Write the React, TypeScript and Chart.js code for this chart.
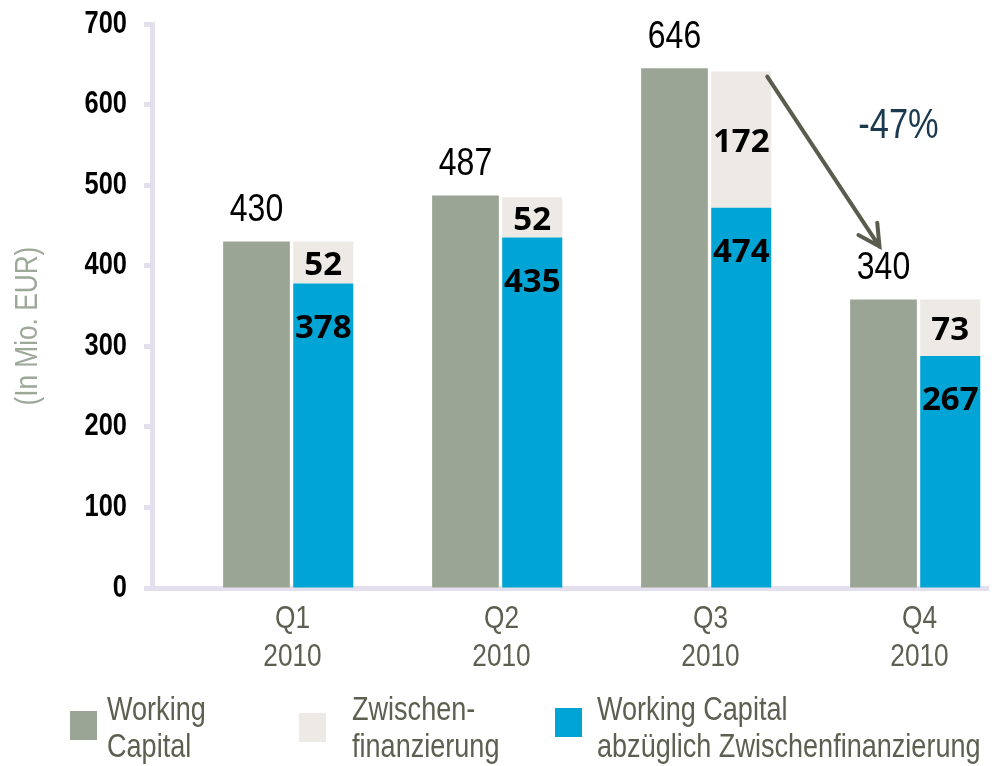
import React, { useEffect, useRef } from 'react';
import { Chart, registerables } from 'chart.js';

Chart.register(...registerables);

// ---- data ----
const categories = [
  ['Q1', '2010'],
  ['Q2', '2010'],
  ['Q3', '2010'],
  ['Q4', '2010'],
];
const spacer = [null, null, null, null];
const workingCapital = [430, 487, 645, 358];
const zwischenfinanzierung = [52, 50, 169, 70];
const wcNet = [378, 435, 472, 288];

const wcLabels = ['430', '487', '646', '340'];
const zwLabels = ['52', '52', '172', '73'];
const netLabels = ['378', '435', '474', '267'];

const yMin = 0;
const yMax = 700;
const yStep = 100;
const yTitle = '(In Mio. EUR)';
const changeLabel = '-47%';

const legendNames = [
  ['Working', 'Capital'],
  ['Zwischen-', 'finanzierung'],
  ['Working Capital', 'abzüglich Zwischenfinanzierung'],
];

// ---- styles ----
const GRAY = '#9ba596';
const BEIGE = '#edeae5';
const BLUE = '#00a5d6';
const AXIS = '#e3dfec';
const TEXT = '#5d5f50';
const TITLE = '#9ca898';
const ARROW = '#5a5c4e';
const CHANGE = '#1b3a50';
const SANS = '"Liberation Sans", Arial, sans-serif';
const WIDEBOLD = '"Open Sans", "Noto Sans", sans-serif';
const NARROW_SCALE = 0.82;

const legendLayout = [
  { color: GRAY, box: [70, 711, 27, 29], textX: 107 },
  { color: BEIGE, box: [299, 713, 27, 29], textX: 352 },
  { color: BLUE, box: [555, 708, 27, 29], textX: 597 },
];

function narrowText(
  ctx: CanvasRenderingContext2D,
  text: string,
  x: number,
  y: number,
  size: number,
  color: string,
  align: CanvasTextAlign = 'center',
  weight = 'normal'
) {
  ctx.save();
  ctx.translate(x, y);
  ctx.scale(NARROW_SCALE, 1);
  ctx.font = `${weight} ${size}px ${SANS}`;
  ctx.fillStyle = color;
  ctx.textAlign = align;
  ctx.textBaseline = 'middle';
  ctx.fillText(text, 0, 0);
  ctx.restore();
}

const overlayPlugin = {
  id: 'overlay',
  afterDraw(chart: any) {
    const ctx = chart.ctx as CanvasRenderingContext2D;
    const yScale = chart.scales.y;
    const xScale = chart.scales.x;
    const area = chart.chartArea;
    const wcMeta = chart.getDatasetMeta(1);
    const netMeta = chart.getDatasetMeta(2);
    const zwMeta = chart.getDatasetMeta(3);
    ctx.save();

    // y tick labels
    yScale.ticks.forEach((t: any, i: number) => {
      narrowText(ctx, String(t.label), area.left - 25, yScale.getPixelForTick(i), 31, '#000', 'right', 'bold');
    });

    // x tick labels
    xScale.ticks.forEach((t: any, i: number) => {
      const lines = categories[i];
      const px = xScale.getPixelForTick(i) + 36;
      lines.forEach((line, j) => {
        narrowText(ctx, line, px, area.bottom + 31 + j * 38, 32, TEXT, 'center');
      });
    });

    // value labels above working capital bars
    wcMeta.data.forEach((bar: any, i: number) => {
      narrowText(ctx, wcLabels[i], bar.x, bar.y - 31, 39, '#000');
    });

    // labels in stacked bars
    ctx.fillStyle = '#000';
    ctx.textAlign = 'center';
    ctx.textBaseline = 'middle';
    ctx.font = `bold 33px ${WIDEBOLD}`;
    zwMeta.data.forEach((bar: any, i: number) => {
      ctx.fillText(zwLabels[i], bar.x, (bar.y + bar.base) / 2 + 3);
    });
    netMeta.data.forEach((bar: any, i: number) => {
      ctx.fillText(netLabels[i], bar.x, bar.y + 45);
    });

    // arrow from Q3 to Q4
    const from = zwMeta.data[2] as any;
    const to = wcMeta.data[3] as any;
    const x1 = from.x + from.width / 2 - 4;
    const y1 = from.y + 5;
    const x2 = to.x - 4;
    const y2 = to.y - 53;
    ctx.strokeStyle = ARROW;
    ctx.lineWidth = 4;
    ctx.lineCap = 'round';
    ctx.beginPath();
    ctx.moveTo(x1, y1);
    ctx.lineTo(x2, y2);
    const ang = Math.atan2(y1 - y2, x1 - x2);
    const hl = 24;
    const spread = (28 * Math.PI) / 180;
    ctx.moveTo(x2 + hl * Math.cos(ang - spread), y2 + hl * Math.sin(ang - spread));
    ctx.lineTo(x2, y2);
    ctx.lineTo(x2 + hl * Math.cos(ang + spread), y2 + hl * Math.sin(ang + spread));
    ctx.stroke();

    // change label
    narrowText(ctx, changeLabel, xScale.getPixelForValue(3) + 15, yScale.getPixelForValue(573), 42, CHANGE);

    // y axis title
    ctx.save();
    ctx.translate(28, yScale.getPixelForValue(325));
    ctx.rotate(-Math.PI / 2);
    narrowText(ctx, yTitle, 0, 0, 32, TITLE);
    ctx.restore();

    // legend
    legendLayout.forEach((item, i) => {
      ctx.fillStyle = item.color;
      ctx.fillRect(item.box[0], item.box[1], item.box[2], item.box[3]);
      legendNames[i].forEach((line, j) => {
        narrowText(ctx, line, item.textX, 711 + j * 37, 33, TEXT, 'left');
      });
    });

    ctx.restore();
  },
};

export default function App() {
  const canvasRef = useRef<HTMLCanvasElement | null>(null);

  useEffect(() => {
    if (!canvasRef.current) return;
    const common = { categoryPercentage: 0.958 };
    const chart = new Chart(canvasRef.current, {
      type: 'bar',
      data: {
        labels: categories as any,
        datasets: [
          { label: '', data: spacer as any, stack: 'spacer', backgroundColor: 'rgba(0,0,0,0)', barPercentage: 1, ...common },
          { label: 'Working Capital', data: workingCapital, stack: 'wc', backgroundColor: GRAY, barPercentage: 1, ...common },
          { label: 'Working Capital abzüglich Zwischenfinanzierung', data: wcNet, stack: 'net', backgroundColor: BLUE, barPercentage: 0.9, ...common },
          { label: 'Zwischenfinanzierung', data: zwischenfinanzierung, stack: 'net', backgroundColor: BEIGE, barPercentage: 0.9, ...common },
        ],
      },
      options: {
        responsive: false,
        animation: false,
        layout: { padding: { top: 24, right: 13, left: 0, bottom: 0 } },
        plugins: {
          legend: { display: false },
          tooltip: { enabled: false },
        },
        scales: {
          x: {
            stacked: true,
            z: 1,
            grid: { display: false, drawTicks: false },
            border: { display: true, color: AXIS, width: 5 },
            ticks: { display: false, autoSkip: false },
            afterFit: (s: any) => {
              s.height = 178;
            },
          },
          y: {
            stacked: true,
            min: yMin,
            max: yMax,
            ticks: { stepSize: yStep, display: false },
            grid: {
              drawOnChartArea: false,
              drawTicks: true,
              tickLength: 8,
              tickWidth: 5,
              tickColor: AXIS,
            },
            border: { color: AXIS, width: 5 },
            afterFit: (s: any) => {
              s.width = 152;
            },
          },
        },
      } as any,
      plugins: [overlayPlugin],
    });
    return () => chart.destroy();
  }, []);

  return (
    <div style={{ position: 'absolute', left: 0, top: 0, width: 1001, height: 766, background: '#fff' }}>
      <canvas ref={canvasRef} width={1001} height={766} style={{ display: 'block', width: 1001, height: 766 }} />
    </div>
  );
}
